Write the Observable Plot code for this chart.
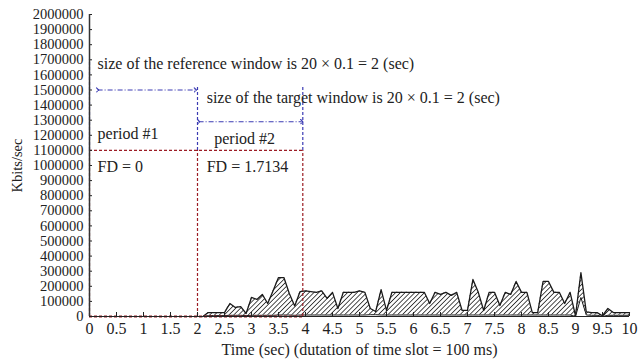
<!DOCTYPE html>
<html><head><meta charset="utf-8">
<script src="https://cdn.jsdelivr.net/npm/d3@7"></script>
<script src="https://cdn.jsdelivr.net/npm/@observablehq/plot@0.6"></script>
<style>
body{margin:0;background:#fff;}
#chart{width:642px;height:360px;}
svg{font-family:"Liberation Serif","DejaVu Serif",serif;}
</style></head><body><div id="chart"></div>
<script>
// time slot index (0.1 s each), 0 .. 10 s
const slots = d3.range(0, 101);
// upper envelope (Kbits/sec)
const upper = [
  0,0,0,0,0,0,0,0,0,0,
  0,0,0,0,0,0,0,0,0,0,
  0,0,26000,26000,26000,26000,86000,60000,66000,20000,
  126000,113000,146000,86000,170000,258000,258000,152000,70000,165000,
  170000,165000,160000,170000,120000,160000,53000,160000,160000,160000,
  170000,160000,53000,33000,178000,40000,160000,160000,160000,160000,
  160000,160000,160000,86000,160000,146000,160000,140000,160000,40000,
  40000,245000,160000,40000,160000,160000,73000,160000,146000,232000,
  160000,160000,26000,26000,232000,232000,160000,160000,86000,160000,
  5000,290000,30000,26000,26000,5000,53000,26000,26000,26000,
  26000
];
// lower envelope (Kbits/sec)
const lower = [
  0,0,0,0,0,0,0,0,0,0,
  0,0,0,0,0,0,0,0,0,0,
  0,0,6000,6000,6000,6000,8000,8000,8000,6000,
  8000,8000,8000,8000,8000,10000,10000,10000,8000,10000,
  10000,10000,10000,10000,10000,10000,10000,10000,10000,10000,
  10000,10000,12000,12000,10000,10000,10000,10000,10000,10000,
  10000,10000,10000,10000,10000,10000,10000,10000,10000,10000,
  10000,10000,10000,10000,10000,10000,10000,10000,10000,10000,
  10000,10000,10000,10000,10000,10000,10000,10000,10000,10000,
  0,126000,10000,8000,8000,0,8000,8000,8000,8000,
  8000
];
const xTicks = [0,0.5,1,1.5,2,2.5,3,3.5,4,4.5,5,5.5,6,6.5,7,7.5,8,8.5,9,9.5,10];
const yTicks = d3.range(0, 2000001, 100000);

// annotation geometry (data units)
const refStart = 0, refEnd = 2, tgtEnd = 3.95;
const fdLevel = 1100000;
const blueVerticals = [{x: refStart, top: 1700000}, {x: refEnd, top: 1530000}, {x: tgtEnd, top: 1530000}];
const redVerticals = [refStart, refEnd, tgtEnd];
const arrows = [{x1: 0.15, x2: 1.96, y: 1500000}, {x1: 2.02, x2: 3.93, y: 1290000}];
const labels = [
  {x: 0.15, y: 1670000, text: "size of the reference window is 20 × 0.1 = 2 (sec)"},
  {x: 2.17, y: 1450000, text: "size of the target window is 20 × 0.1 = 2 (sec)"},
  {x: 0.15, y: 1210000, text: "period #1"},
  {x: 2.31, y: 1175000, text: "period #2"},
  {x: 0.15, y: 990000, text: "FD = 0"},
  {x: 2.17, y: 990000, text: "FD = 1.7134"}
];

const data = slots.map((i) => ({t: i / 10, hi: upper[i], lo: lower[i]}));
const BLUE = "#3b3bb3", RED = "#9b1c24", DASHDOT = "5,2,1,2";

const chart = Plot.plot({
  width: 642, height: 360,
  marginLeft: 89, marginRight: 13, marginTop: 14, marginBottom: 44,
  style: {fontFamily: '"Liberation Serif", serif', fontSize: "16px", color: "#222", background: "#fff"},
  x: {domain: [0, 10]},
  y: {domain: [0, 2000000]},
  marks: [
    Plot.areaY(data, {x: "t", y1: "lo", y2: "hi", fill: "url(#hatch)"}),
    Plot.line(data.filter(d => d.t >= 2.1), {x: "t", y: "hi", stroke: "#1a1a1a", strokeWidth: 1.3}),
    Plot.line(data.filter(d => d.t >= 2.1), {x: "t", y: "lo", stroke: "#1a1a1a", strokeWidth: 1}),
    // red FD box
    Plot.ruleY([fdLevel], {x1: refStart, x2: tgtEnd, stroke: RED, strokeDasharray: "3,2", strokeWidth: 1.2}),
    Plot.ruleY([0], {x1: refStart, x2: tgtEnd, stroke: RED, strokeDasharray: "3,2", strokeWidth: 1.8}),
    Plot.ruleX(redVerticals, {y1: 0, y2: fdLevel, stroke: RED, strokeDasharray: "3,2", strokeWidth: 1.2}),
    // blue window markers
    Plot.ruleX(blueVerticals, {x: "x", y1: fdLevel, y2: "top", stroke: BLUE, strokeDasharray: "3,2", strokeWidth: 1.2}),
    Plot.link(arrows, {x1: "x1", x2: "x2", y1: "y", y2: "y", stroke: BLUE, strokeDasharray: DASHDOT, strokeWidth: 1.1, markerStart: "arrow", markerEnd: "arrow"}),
    Plot.text(labels, {x: "x", y: "y", text: "text", textAnchor: "start", fontSize: 16, fill: "#222"}),
    // axes
    Plot.axisY({ticks: yTicks, tickFormat: d => String(d), tickSize: -3, tickPadding: 9, fontSize: 14.5,
      label: "Kbits/sec", labelAnchor: "center", labelOffset: 78, labelArrow: "none"}),
    Plot.axisX({ticks: xTicks, tickFormat: d => String(d), tickSize: -4, tickPadding: 10, fontSize: 16,
      label: "Time (sec) (dutation of time slot = 100 ms)", labelAnchor: "center", labelOffset: 38, labelArrow: "none"}),
    Plot.ruleX([0], {stroke: "#333", strokeWidth: 1.5}),
    Plot.ruleY([0], {stroke: "#222", strokeWidth: 1})
  ]
});

// hatch pattern
const ns = "http://www.w3.org/2000/svg";
const defs = document.createElementNS(ns, "defs");
const pat = document.createElementNS(ns, "pattern");
pat.setAttribute("id", "hatch");
pat.setAttribute("patternUnits", "userSpaceOnUse");
pat.setAttribute("width", "3.4");
pat.setAttribute("height", "3.4");
pat.setAttribute("patternTransform", "rotate(45)");
const bg = document.createElementNS(ns, "rect");
bg.setAttribute("width", "3.4"); bg.setAttribute("height", "3.4"); bg.setAttribute("fill", "#fff");
const ln = document.createElementNS(ns, "line");
ln.setAttribute("x1", "0"); ln.setAttribute("y1", "0"); ln.setAttribute("x2", "0"); ln.setAttribute("y2", "3.4");
ln.setAttribute("stroke", "#222"); ln.setAttribute("stroke-width", "1.6");
pat.appendChild(bg); pat.appendChild(ln); defs.appendChild(pat);
chart.insertBefore(defs, chart.firstChild);
document.getElementById("chart").appendChild(chart);
</script></body></html>
